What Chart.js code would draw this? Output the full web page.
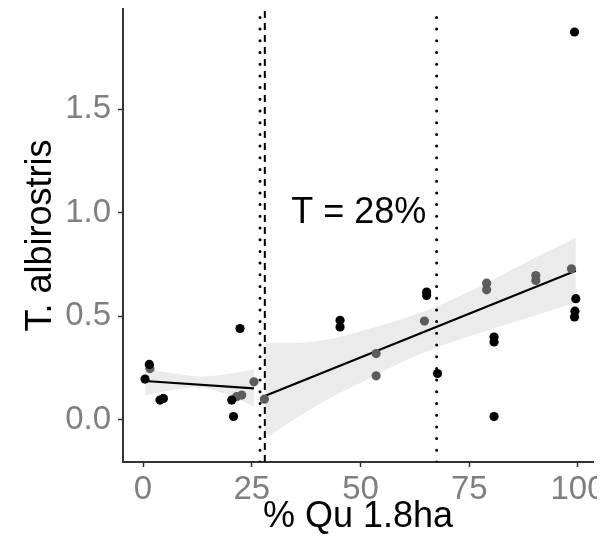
<!DOCTYPE html>
<html><head><meta charset="utf-8">
<script src="https://cdn.jsdelivr.net/npm/chart.js@4/dist/chart.umd.min.js"></script>
<style>html,body{margin:0;padding:0;background:#fff;width:615px;height:542px;overflow:hidden}#wrap{width:597px;height:542px}</style>
</head><body><div id="wrap"><canvas id="c"></canvas></div>
<script>
// ---- data ----
const X_TICKS = [0, 25, 50, 75, 100];
const Y_TICKS = [0, 0.5, 1.0, 1.5];
const X_RANGE = [-4.6, 103.45];
const Y_RANGE = [-0.203, 1.983];

const BLACK_X = [22.3, 1.45, 0.46, 3.9, 4.7, 20.4, 20.8, 45.3, 45.3, 65.2, 65.2, 67.7, 80.7, 80.7, 80.7, 99.5, 99.3, 99.2, 99.2];
const BLACK_Y = [0.441, 0.268, 0.197, 0.096, 0.104, 0.096, 0.016, 0.481, 0.449, 0.617, 0.601, 0.224, 0.40, 0.376, 0.016, 0.585, 0.525, 0.497, 1.872];
const GREY_X = [1.6, 21.5, 22.7, 25.5, 27.9, 53.6, 53.6, 64.7, 79.0, 79.0, 90.3, 90.3, 98.5];
const GREY_Y = [0.248, 0.112, 0.12, 0.184, 0.1, 0.32, 0.213, 0.477, 0.66, 0.628, 0.697, 0.673, 0.729];

const LEFT_FIT_X = [0.5, 25.5];
const LEFT_FIT_Y = [0.188, 0.152];
const RIGHT_FIT_X = [28, 99.5];
const RIGHT_FIT_Y = [0.115, 0.72];

const LEFT_BAND_X = [0.5, 7, 13, 19, 25.5];
const LEFT_BAND_UP = [0.25, 0.225, 0.21, 0.22, 0.245];
const LEFT_BAND_LO = [0.12, 0.145, 0.155, 0.125, 0.065];
const RIGHT_BAND_X = [28, 40, 52, 64, 76, 88, 99.5];
const RIGHT_BAND_UP = [0.37, 0.38, 0.44, 0.52, 0.63, 0.76, 0.88];
const RIGHT_BAND_LO = [-0.09, 0.07, 0.20, 0.32, 0.41, 0.49, 0.567];

const THRESHOLD_X = 28;          // dashed line
const DOTTED_X = [26.9, 67.5];   // dotted lines
const LABEL_TEXT = 'T = 28%';
const LABEL_POS = [49.6, 1.0];
const X_TITLE = '% Qu 1.8ha';
const Y_TITLE = 'T. albirostris';

// ---- chart ----
const FONT = '"Liberation Sans", Arial, sans-serif';
const zip = (xs, ys) => xs.map((x, i) => ({x: x, y: ys[i]}));
const vline = x => [{x: x, y: Y_RANGE[0]}, {x: x, y: Y_RANGE[1]}];
const bandStyle = {type: 'line', borderWidth: 0, pointRadius: 0, tension: 0.4, order: 10, backgroundColor: '#ebebeb', borderColor: 'rgba(0,0,0,0)'};

const datasets = [
  Object.assign({}, bandStyle, {data: zip(LEFT_BAND_X, LEFT_BAND_UP), fill: false}),
  Object.assign({}, bandStyle, {data: zip(LEFT_BAND_X, LEFT_BAND_LO), fill: '-1'}),
  Object.assign({}, bandStyle, {data: zip(RIGHT_BAND_X, RIGHT_BAND_UP), fill: false}),
  Object.assign({}, bandStyle, {data: zip(RIGHT_BAND_X, RIGHT_BAND_LO), fill: '-1'}),
  {type: 'line', data: zip(LEFT_FIT_X, LEFT_FIT_Y), borderColor: '#000', borderWidth: 2.2, pointRadius: 0, fill: false, order: 3},
  {type: 'line', data: zip(RIGHT_FIT_X, RIGHT_FIT_Y), borderColor: '#000', borderWidth: 2.2, pointRadius: 0, fill: false, order: 3},
];
DOTTED_X.forEach(x => datasets.push({type: 'line', data: vline(x), borderColor: '#000', borderWidth: 3, borderDash: [0, 11.7], borderCapStyle: 'round', pointRadius: 0, fill: false, order: 4}));
datasets.push({type: 'line', data: vline(THRESHOLD_X), borderColor: '#000', borderWidth: 2, borderDash: [7, 5], pointRadius: 0, fill: false, order: 4});
datasets.push({type: 'scatter', data: zip(GREY_X, GREY_Y), backgroundColor: '#5c5c5c', borderWidth: 0, pointRadius: 4.6, order: 2});
datasets.push({type: 'scatter', data: zip(BLACK_X, BLACK_Y), backgroundColor: '#000', borderWidth: 0, pointRadius: 4.6, order: 1});

const annot = {
  id: 'annot',
  afterDatasetsDraw(chart) {
    const {ctx, scales: {x, y}} = chart;
    ctx.save();
    ctx.font = '36px ' + FONT;
    ctx.fillStyle = '#000';
    ctx.textAlign = 'center';
    ctx.textBaseline = 'middle';
    ctx.fillText(LABEL_TEXT, x.getPixelForValue(LABEL_POS[0]), y.getPixelForValue(LABEL_POS[1]));
    ctx.restore();
  }
};

new Chart(document.getElementById('c'), {
  type: 'scatter',
  data: {datasets: datasets},
  plugins: [annot],
  options: {
    responsive: true, maintainAspectRatio: false, animation: false,
    layout: {padding: {top: 9, right: 4, bottom: 0, left: 0}, autoPadding: false},
    plugins: {legend: {display: false}, tooltip: {enabled: false}},
    scales: {
      x: {
        type: 'linear', min: X_RANGE[0], max: X_RANGE[1],
        afterBuildTicks: s => { s.ticks = X_TICKS.map(v => ({value: v})); },
        afterFit: s => { s.height = 80; s.paddingLeft = 0; s.paddingRight = 0; },
        ticks: {color: '#7f7f7f', font: {family: FONT, size: 33}, padding: 3, maxRotation: 0, autoSkip: false, callback: v => String(v)},
        grid: {drawOnChartArea: false, drawTicks: true, tickLength: 5, tickColor: '#333', tickWidth: 1.5},
        border: {display: true, color: '#333', width: 2},
        title: {display: true, text: X_TITLE, color: '#000', font: {family: FONT, size: 36}, padding: {top: 0, bottom: 3}}
      },
      y: {
        type: 'linear', min: Y_RANGE[0], max: Y_RANGE[1],
        afterBuildTicks: s => { s.ticks = Y_TICKS.map(v => ({value: v})); },
        afterFit: s => { s.width = 123; s.paddingTop = 0; s.paddingBottom = 0; },
        ticks: {color: '#7f7f7f', font: {family: FONT, size: 33}, padding: 7, autoSkip: false, callback: v => v.toFixed(1)},
        grid: {drawOnChartArea: false, drawTicks: true, tickLength: 5, tickColor: '#333', tickWidth: 1.5},
        border: {display: true, color: '#333', width: 2},
        title: {display: true, text: Y_TITLE, color: '#000', font: {family: FONT, size: 36}, padding: {top: 19, bottom: 0}}
      }
    }
  }
});
</script>
</body></html>
